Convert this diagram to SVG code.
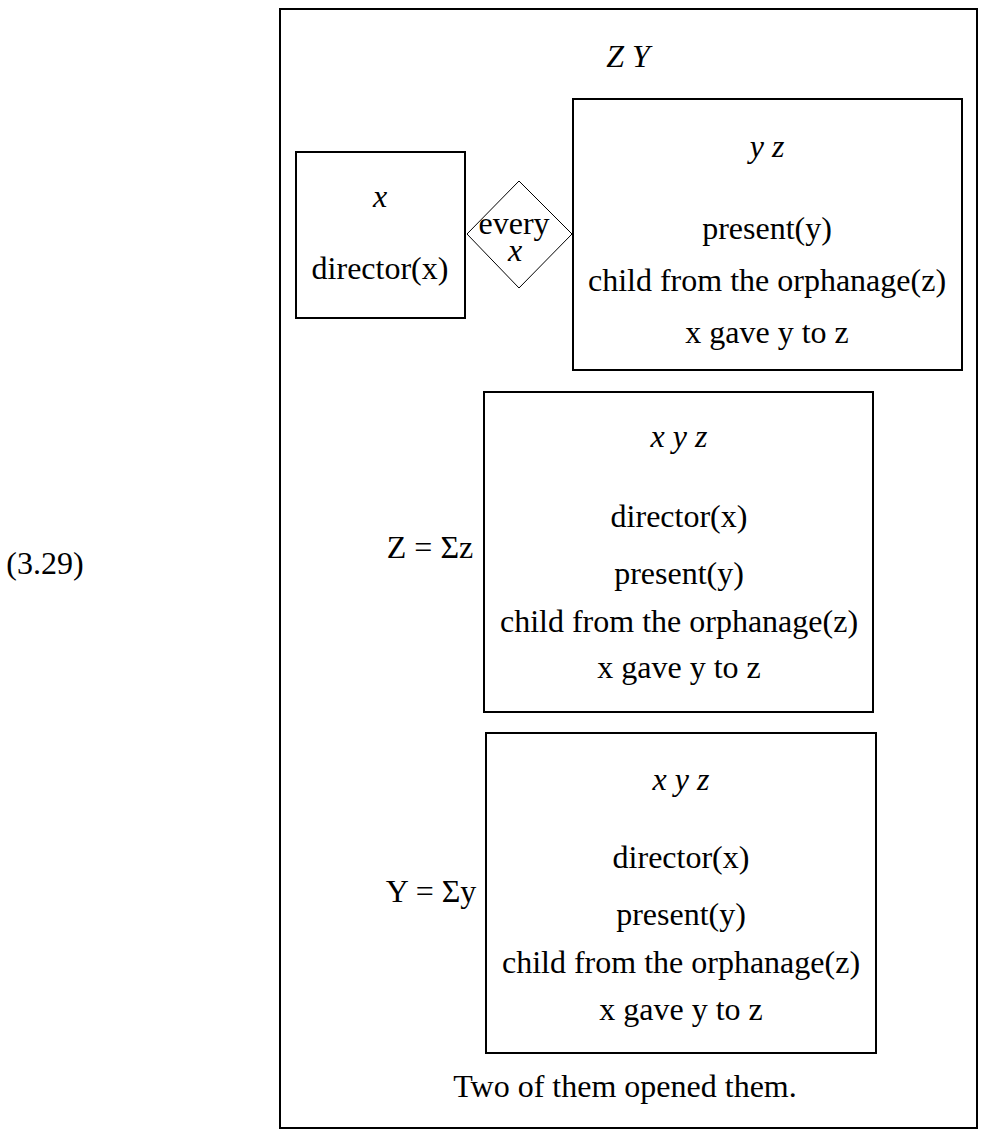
<svg xmlns="http://www.w3.org/2000/svg" width="982" height="1131" viewBox="0 0 982 1131">
  <style>
    text { font-family: "Liberation Serif", "Times New Roman", serif; font-size: 32px; fill: #000; text-anchor: middle; }
    .it { font-style: italic; }
    .box { fill: none; stroke: #000; stroke-width: 2; }
    .thin { fill: none; stroke: #000; stroke-width: 1; }
  </style>

  <!-- example number -->
  <text id="label" x="45" y="574">(3.29)</text>

  <!-- outer DRS -->
  <g id="outer">
    <rect class="box" x="280" y="9" width="697" height="1119"/>
    <text class="it" x="628" y="67">Z Y</text>
    <text x="625" y="1097">Two of them opened them.</text>
  </g>

  <!-- restrictor box -->
  <g id="restrictor">
    <rect class="box" x="296" y="152" width="169" height="166"/>
    <text class="it" x="380" y="207">x</text>
    <text x="380" y="279">director(x)</text>
  </g>

  <!-- duplex quantifier -->
  <g id="quantifier">
    <polygon class="thin" points="467,234 519,181 572,234 519,288"/>
    <text x="514" y="234">every</text>
    <text class="it" x="515" y="261">x</text>
  </g>

  <!-- nuclear scope box -->
  <g id="scope">
    <rect class="box" x="573" y="99" width="389" height="271"/>
    <text class="it" x="767" y="157">y z</text>
    <text x="767" y="239">present(y)</text>
    <text x="767" y="291">child from the orphanage(z)</text>
    <text x="767" y="343">x gave y to z</text>
  </g>

  <!-- abstraction Z -->
  <g id="sumZ">
    <text x="430" y="558">Z = Σz</text>
    <rect class="box" x="484" y="392" width="389" height="320"/>
    <text class="it" x="679" y="447">x y z</text>
    <text x="679" y="527">director(x)</text>
    <text x="679" y="584">present(y)</text>
    <text x="679" y="632">child from the orphanage(z)</text>
    <text x="679" y="678">x gave y to z</text>
  </g>

  <!-- abstraction Y -->
  <g id="sumY">
    <text x="431" y="902">Y = Σy</text>
    <rect class="box" x="486" y="733" width="390" height="320"/>
    <text class="it" x="681" y="790">x y z</text>
    <text x="681" y="868">director(x)</text>
    <text x="681" y="925">present(y)</text>
    <text x="681" y="973">child from the orphanage(z)</text>
    <text x="681" y="1020">x gave y to z</text>
  </g>

  <g id="connectors"></g>
</svg>
